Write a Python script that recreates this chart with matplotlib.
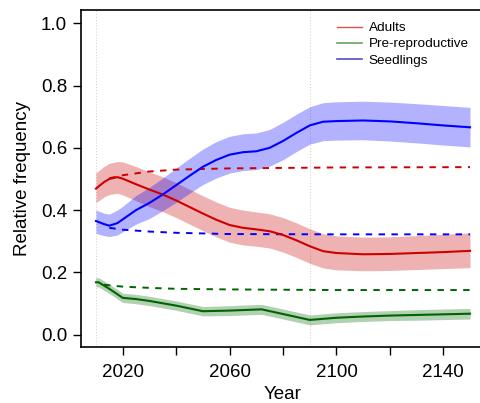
import matplotlib
matplotlib.use("Agg")
import matplotlib.pyplot as plt
from matplotlib.lines import Line2D

plt.rcParams["font.family"] = ["Liberation Sans", "DejaVu Sans"]

# Years for adults / seedlings trajectories
years = [2010, 2013, 2015, 2018, 2020, 2025, 2030, 2035, 2040, 2045, 2050, 2055,
         2060, 2065, 2070, 2075, 2080, 2085, 2090, 2095, 2100, 2110, 2120, 2130,
         2140, 2150]

adults = [0.469, 0.490, 0.500, 0.506, 0.501, 0.483, 0.466, 0.450, 0.431, 0.410,
          0.389, 0.369, 0.352, 0.343, 0.338, 0.332, 0.320, 0.303, 0.284, 0.268,
          0.262, 0.258, 0.259, 0.262, 0.265, 0.269]
adults_hi = [0.520, 0.540, 0.550, 0.556, 0.555, 0.540, 0.523, 0.507, 0.488, 0.467,
             0.446, 0.426, 0.409, 0.400, 0.394, 0.388, 0.376, 0.359, 0.340, 0.324,
             0.317, 0.313, 0.314, 0.318, 0.322, 0.327]
adults_lo = [0.424, 0.442, 0.450, 0.454, 0.449, 0.430, 0.411, 0.395, 0.376, 0.355,
             0.334, 0.314, 0.297, 0.288, 0.284, 0.278, 0.265, 0.248, 0.229, 0.214,
             0.208, 0.205, 0.206, 0.209, 0.212, 0.215]

seedlings = [0.365, 0.355, 0.350, 0.358, 0.370, 0.400, 0.423, 0.450, 0.480, 0.510,
             0.539, 0.561, 0.578, 0.586, 0.589, 0.600, 0.622, 0.648, 0.672, 0.684,
             0.686, 0.688, 0.685, 0.679, 0.672, 0.666]
seedlings_hi = [0.400, 0.390, 0.387, 0.400, 0.412, 0.447, 0.473, 0.503, 0.535, 0.566,
                0.596, 0.620, 0.637, 0.645, 0.648, 0.659, 0.682, 0.708, 0.732, 0.745,
                0.748, 0.750, 0.747, 0.742, 0.736, 0.730]
seedlings_lo = [0.325, 0.318, 0.315, 0.320, 0.330, 0.355, 0.373, 0.398, 0.425, 0.454,
                0.482, 0.503, 0.519, 0.527, 0.530, 0.541, 0.562, 0.588, 0.612, 0.623,
                0.625, 0.626, 0.622, 0.616, 0.609, 0.603]

# Pre-reproductive trajectory
g_years = [2010, 2011, 2015, 2020, 2025, 2030, 2040, 2050, 2060, 2072, 2080, 2090,
           2100, 2110, 2120, 2130, 2140, 2150]
prerep = [0.168, 0.168, 0.147, 0.118, 0.114, 0.108, 0.093, 0.075, 0.077, 0.081,
          0.066, 0.047, 0.054, 0.058, 0.061, 0.063, 0.065, 0.067]
prerep_hi = [0.183, 0.183, 0.162, 0.133, 0.129, 0.123, 0.108, 0.090, 0.093, 0.097,
             0.082, 0.063, 0.070, 0.074, 0.077, 0.080, 0.082, 0.084]
prerep_lo = [0.153, 0.153, 0.132, 0.103, 0.099, 0.093, 0.078, 0.060, 0.061, 0.065,
             0.050, 0.031, 0.038, 0.042, 0.045, 0.046, 0.048, 0.050]

# Dashed (stable structure) projections
adults_d_years = [2015, 2020, 2030, 2040, 2060, 2100, 2150]
adults_d = [0.502, 0.512, 0.524, 0.530, 0.534, 0.537, 0.538]
seed_d_years = [2015, 2020, 2030, 2040, 2060, 2100, 2150]
seed_d = [0.343, 0.337, 0.331, 0.327, 0.323, 0.322, 0.322]
prerep_d_years = [2013, 2020, 2030, 2040, 2060, 2100, 2150]
prerep_d = [0.160, 0.154, 0.150, 0.147, 0.145, 0.143, 0.143]

xticks = [2020, 2040, 2060, 2080, 2100, 2120, 2140]
xticklabels = ["2020", "", "2060", "", "2100", "", "2140"]
yticks = [0.0, 0.2, 0.4, 0.6, 0.8, 1.0]
vlines = [2010, 2090]

RED = "#cd0000"
GREEN = "#006400"
BLUE = "#0000ff"

fig = plt.figure(figsize=(4.8, 4.03), dpi=100)
ax = fig.add_axes([81 / 480, 1 - 347 / 403, 404 / 480, 337 / 403])

for v in vlines:
    ax.axvline(v, color="#cccccc", lw=0.7, ls=(0, (1, 2)), zorder=0)

ax.fill_between(years, adults_lo, adults_hi, color=RED, alpha=0.3, lw=0)
ax.fill_between(g_years, prerep_lo, prerep_hi, color=GREEN, alpha=0.3, lw=0)
ax.fill_between(years, seedlings_lo, seedlings_hi, color=BLUE, alpha=0.3, lw=0)

dash = (0, (3.3, 3.3))
ax.plot(adults_d_years, adults_d, color=RED, lw=1.4, ls=dash)
ax.plot(seed_d_years, seed_d, color=BLUE, lw=1.4, ls=dash)
ax.plot(prerep_d_years, prerep_d, color=GREEN, lw=1.4, ls=dash)

ax.plot(years, adults, color=RED, lw=1.5)
ax.plot(g_years, prerep, color=GREEN, lw=1.5)
ax.plot(years, seedlings, color=BLUE, lw=1.5)

ax.set_xlim(2004.4, 2155.6)
ax.set_ylim(-0.04, 1.043)
ax.set_xticks(xticks)
ax.set_xticklabels(xticklabels)
ax.set_yticks(yticks)
ax.set_yticklabels([f"{t:.1f}" for t in yticks])
ax.tick_params(direction="out", length=6, width=1, labelsize=13.5, pad=4)
ax.tick_params(axis="x", pad=6)
for s in ["left", "bottom", "top"]:
    ax.spines[s].set_linewidth(1.2)
ax.spines["right"].set_visible(False)

ax.set_xlabel("Year", fontsize=13.5, labelpad=3.5)
ax.set_ylabel("Relative frequency", fontsize=13.5, labelpad=7)

handles = [Line2D([], [], color="#e05050", lw=1),
           Line2D([], [], color="#60a860", lw=1.2),
           Line2D([], [], color="#5050c0", lw=1.2)]
ax.legend(handles, ["Adults", "Pre-reproductive", "Seedlings"],
          loc="upper left", bbox_to_anchor=(337 / 480, 1 - 22 / 403),
          bbox_transform=fig.transFigure, frameon=False, fontsize=9.7,
          handlelength=1.85, handletextpad=0.52, labelspacing=0.27,
          borderpad=0, borderaxespad=0)

fig.savefig("out.png", dpi=100)
